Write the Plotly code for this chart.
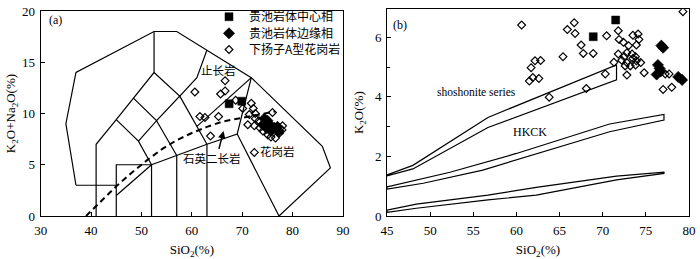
import plotly.graph_objects as go

# ---------------- Panel (a): TAS (SiO2 vs K2O+Na2O) ----------------
a_center_sio2 = [67.4, 69.9]
a_center_alk = [10.95, 11.2]
a_margin_sio2 = [74.4, 75.0, 74.1, 75.7, 76.4, 77.0, 75.7, 77.2, 74.8]
a_margin_alk = [9.5, 9.3, 8.9, 8.8, 8.6, 8.7, 8.3, 8.3, 8.6]
a_atype_sio2 = [60.6, 66.6, 66.6, 65.7, 61.6, 62.6, 65.3, 63.7, 68.7, 70.1, 72.4,
                71.8, 72.2, 72.6, 71.4, 72.6, 73.3, 71.1, 72.4, 74.1, 75.1, 75.7,
                76.6, 78.0, 77.9, 77.4, 76.0, 73.5]
a_atype_alk = [12.1, 13.2, 12.2, 11.9, 9.7, 9.6, 9.7, 7.8, 11.3, 10.5, 6.2,
               11.0, 10.5, 10.0, 9.9, 9.5, 9.3, 8.9, 8.8, 8.3, 7.9, 7.7,
               7.6, 8.8, 8.4, 8.1, 10.1, 8.6]

# TAS field boundaries (SiO2, K2O+Na2O)
tas_outer = [(37, 3), (35, 9), (37, 14), (52.5, 18), (57, 18), (63, 16.2), (71.8, 13.5),
             (85.9, 6.8), (87.5, 4.7), (77.3, 0)]
tas_inner = [
    [(37, 3), (45, 3)],
    [(41, 0), (41, 7), (45, 9.4), (48.4, 11.5), (52.5, 14), (52.5, 18)],
    [(45, 0), (45, 5), (52, 5)],
    [(45, 2), (52, 5), (52, 0)],
    [(57, 0), (57, 5.9)],
    [(63, 0), (63, 7)],
    [(52, 5), (57, 5.9), (63, 7), (69, 8), (71.8, 13.5)],
    [(77.3, 0), (69, 8)],
    [(45, 9.4), (49.4, 7.3), (52, 5)],
    [(49.4, 7.3), (53, 9.3), (57, 5.9)],
    [(48.4, 11.5), (53, 9.3), (57.6, 11.7), (63, 7)],
    [(52.5, 14), (57.6, 11.7), (61, 13.5), (63, 16.2)],
    [(61, 8.74), (71.8, 13.5)],
]
# alkaline / subalkaline divide (dashed)
div_sio2 = [39, 41, 45, 48, 51, 54, 57, 60, 63, 66, 70, 76.5]
div_alk = [0, 1.0, 2.9, 4.2, 5.4, 6.5, 7.4, 8.1, 8.7, 9.2, 9.6, 10.2]

# ---------------- Panel (b): SiO2 vs K2O ----------------
b_center_sio2 = [68.9, 71.5]
b_center_k2o = [6.02, 6.58]
b_margin_sio2 = [76.8, 77.0, 76.4, 76.6, 76.25, 78.75, 79.2, 76.7]
b_margin_k2o = [5.72, 5.65, 5.07, 4.95, 4.75, 4.67, 4.57, 4.85]
b_atype_sio2 = [60.6, 65.9, 66.7, 66.8, 70.45, 71.8, 67.5, 67.75, 68.9, 65.4, 62.8,
                62.15, 61.7, 61.9, 61.5, 62.6, 63.8, 68.1, 70.3, 71.3, 74.8, 79.3,
                77.0, 78.0, 77.25, 77.7, 71.9, 72.4, 73.0, 72.8, 72.5, 73.4, 73.8,
                73.5, 74.1, 74.2, 73.9, 74.4, 72.8, 73.2, 72.6, 73.5, 72.8, 72.2,
                73.8, 71.8, 73.9]
b_atype_k2o = [6.41, 6.26, 6.49, 6.13, 6.05, 6.22, 5.74, 5.46, 5.46, 5.35, 5.22,
               5.21, 4.98, 4.65, 4.53, 4.62, 3.99, 4.28, 4.77, 5.16, 4.81, 6.86,
               4.25, 4.32, 4.77, 4.77, 5.93, 5.83, 5.72, 5.48, 5.35, 5.44, 5.35,
               6.07, 6.11, 5.93, 5.74, 5.15, 5.15, 5.04, 5.04, 5.29, 4.73, 5.23,
               5.07, 5.44, 5.21]

# series boundary bands (upper edge, lower edge)
sho_upper = [(45, 1.38), (48, 1.7), (56.7, 3.31), (71.6, 5.07)]
sho_lower = [(45, 1.35), (48, 1.58), (56.7, 2.97), (71.6, 4.57)]
hk_upper = [(45, 0.98), (52.3, 1.47), (60, 2.1), (70.8, 3.09), (77.1, 3.41)]
hk_lower = [(45, 0.9), (49.2, 1.1), (56.1, 1.54), (70.8, 2.83), (77.1, 3.22)]
low_upper = [(45, 0.20), (48.4, 0.40), (56.7, 0.70), (62.3, 0.96), (71.6, 1.34), (77.1, 1.47)]
low_lower = [(45, 0.12), (48.4, 0.26), (56.7, 0.54), (62.3, 0.70), (71.6, 1.21), (77.1, 1.43)]

LEG = ["贵池岩体中心相", "贵池岩体边缘相", "下扬子A型花岗岩"]

SERIF = "Liberation Serif, Times New Roman, serif"
CJK = "Noto Sans CJK SC, sans-serif"


def polylines(lines):
    xs, ys = [], []
    for ln in lines:
        for px, py in ln:
            xs.append(px)
            ys.append(py)
        xs.append(None)
        ys.append(None)
    return xs, ys


fig = go.Figure()

# ---- panel a lines
lx, ly = polylines([tas_outer] + tas_inner)
fig.add_trace(go.Scatter(x=lx, y=ly, mode="lines", line=dict(color="black", width=1.2),
                         xaxis="x", yaxis="y", showlegend=False, hoverinfo="skip"))
fig.add_trace(go.Scatter(x=div_sio2, y=div_alk, mode="lines",
                         line=dict(color="black", width=2, dash="6px,4px"),
                         xaxis="x", yaxis="y", showlegend=False, hoverinfo="skip"))

open_marker = dict(symbol="diamond-open", size=6, color="black", line=dict(width=1.2, color="black"))
dia_marker = dict(symbol="diamond", size=8.5, color="black", line=dict(width=0.8, color="black"))
sq_marker = dict(symbol="square", size=8, color="black", line=dict(width=0.5, color="black"))

fig.add_trace(go.Scatter(x=a_atype_sio2, y=a_atype_alk, mode="markers", marker=open_marker,
                         name=LEG[2], legend="legend3", xaxis="x", yaxis="y"))
fig.add_trace(go.Scatter(x=a_margin_sio2, y=a_margin_alk, mode="markers", marker=dia_marker,
                         name=LEG[1], legend="legend2", xaxis="x", yaxis="y"))
fig.add_trace(go.Scatter(x=a_center_sio2, y=a_center_alk, mode="markers", marker=sq_marker,
                         name=LEG[0], legend="legend", xaxis="x", yaxis="y"))

# ---- panel b lines
bands = [sho_upper + sho_lower[::-1] + [sho_upper[0]],
         hk_upper + hk_lower[::-1] + [hk_upper[0]],
         low_upper + low_lower[::-1] + [low_upper[0]]]
bx, by = polylines(bands)
fig.add_trace(go.Scatter(x=bx, y=by, mode="lines", line=dict(color="black", width=1.2),
                         xaxis="x2", yaxis="y2", showlegend=False, hoverinfo="skip"))
fig.add_trace(go.Scatter(x=b_atype_sio2, y=b_atype_k2o, mode="markers", marker=open_marker,
                         showlegend=False, xaxis="x2", yaxis="y2"))
fig.add_trace(go.Scatter(x=b_margin_sio2, y=b_margin_k2o, mode="markers", marker=dia_marker,
                         showlegend=False, xaxis="x2", yaxis="y2"))
fig.add_trace(go.Scatter(x=b_center_sio2, y=b_center_k2o, mode="markers", marker=sq_marker,
                         showlegend=False, xaxis="x2", yaxis="y2"))

W, H = 700, 259
axis_common = dict(showline=True, mirror=True, linecolor="black", linewidth=1,
                   ticks="inside", ticklen=4, tickcolor="black", showgrid=False,
                   zeroline=False, automargin=False, ticklabelstandoff=2,
                   tickfont=dict(family=SERIF, size=13, color="black"))
title_font = dict(family=SERIF, size=13, color="black")


def leg(row_px):
    return dict(x=209 / W, xanchor="left", y=1 - row_px / H, yanchor="middle",
                font=dict(family=CJK, size=12, color="black"), bgcolor="rgba(0,0,0,0)",
                tracegroupgap=0, itemwidth=30)


fig.update_layout(
    width=W, height=H, margin=dict(l=0, r=0, t=0, b=0, autoexpand=False),
    paper_bgcolor="white", plot_bgcolor="white",
    xaxis=dict(domain=[40.7 / W, 343 / W], range=[30, 90], tickvals=[30, 40, 50, 60, 70, 80, 90],
               anchor="y", title=dict(text="SiO<sub>2</sub>(%)", font=title_font, standoff=8),
               **axis_common),
    yaxis=dict(domain=[43 / H, 1 - 11 / H], range=[0, 20], tickvals=[0, 5, 10, 15, 20], anchor="x",
               title=dict(text="K<sub>2</sub>O+Na<sub>2</sub>O(%)", font=title_font, standoff=3),
               **axis_common),
    xaxis2=dict(domain=[387 / W, 689 / W], range=[45, 80], tickvals=[45, 50, 55, 60, 65, 70, 75, 80],
                anchor="y2", title=dict(text="SiO<sub>2</sub>(%)", font=title_font, standoff=8),
                **axis_common),
    yaxis2=dict(domain=[43 / H, 1 - 9.3 / H], range=[0, 6.94], tickvals=[0, 2, 4, 6], anchor="x2",
                minor=dict(tickvals=[1, 3, 5], ticks="inside", ticklen=3, tickcolor="black"),
                title=dict(text="K<sub>2</sub>O(%)", font=title_font, standoff=8),
                **axis_common),
    legend=leg(16.7), legend2=leg(33.3), legend3=leg(49.5),
    showlegend=True,
)

cjk_font = dict(family=CJK, size=11.5, color="black")
ann = [
    dict(x=33, y=19.1, xref="x", yref="y", text="(a)", showarrow=False,
         font=dict(family=SERIF, size=12, color="black")),
    dict(x=65.2, y=14.2, xref="x", yref="y", text="止长岩", showarrow=False, font=cjk_font),
    dict(x=77.0, y=6.3, xref="x", yref="y", text="花岗岩", showarrow=False, font=cjk_font),
    dict(x=64.0, y=5.66, xref="x", yref="y", text="石英二长岩", showarrow=False, font=cjk_font),
    dict(x=66.3, y=8.3, xref="x", yref="y", ax=65.3, ay=6.4, axref="x", ayref="y", text="",
         showarrow=True, arrowhead=2, arrowsize=1, arrowwidth=1.5, arrowcolor="black"),
    dict(x=46.5, y=6.41, xref="x2", yref="y2", text="(b)", showarrow=False,
         font=dict(family=SERIF, size=12, color="black")),
    dict(x=55.4, y=4.17, xref="x2", yref="y2", text="shoshonite series", showarrow=False,
         font=dict(family=SERIF, size=11.5, color="black")),
    dict(x=61.6, y=2.83, xref="x2", yref="y2", text="HKCK", showarrow=False,
         font=dict(family=SERIF, size=12, color="black")),
]
fig.update_layout(annotations=ann)

fig.write_html("out.html", post_script="document.body.style.margin='0';",
               config={"displayModeBar": False})
